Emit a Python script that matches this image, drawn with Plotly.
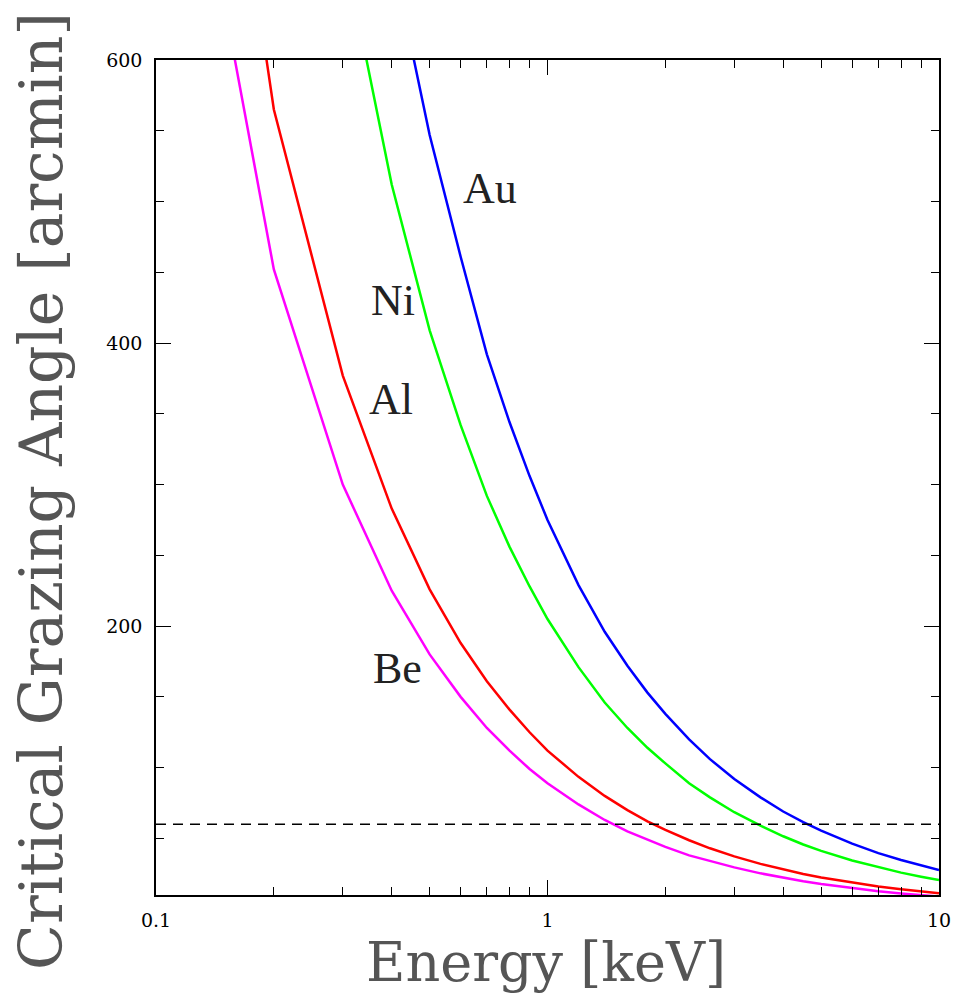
import plotly.graph_objects as go

energy = [0.1, 0.2, 0.3, 0.4, 0.5, 0.6, 0.7, 0.8, 0.9, 1.0, 1.2, 1.4, 1.6, 1.8, 2.0,
          2.3, 2.6, 3.0, 3.5, 4.0, 4.5, 5.0, 6.0, 7.0, 8.0, 9.0, 10.0]
be = [900, 452, 300, 225, 180, 150, 128, 112, 99, 89, 74, 63, 55, 49, 44,
      38, 34, 29.5, 25.3, 22.1, 19.7, 17.7, 14.8, 12.7, 11.1, 9.9, 8.9]
al = [1130, 565, 377, 283, 226, 188, 161, 141, 125, 112, 93.5, 80, 70, 62, 56,
      48.7, 43, 37.3, 32, 28, 24.9, 22.4, 18.7, 16, 14, 12.5, 11.2]
ni = [2050, 1025, 683, 512, 409, 342, 292, 256, 228, 205, 171, 146, 128, 114, 103,
      89, 79, 68.5, 59, 51.5, 45.7, 41.2, 34.4, 29.5, 25.8, 22.9, 20.6]
au = [2750, 1380, 920, 675, 547, 461, 392, 344, 306, 275, 229, 196, 172, 153, 138,
      120, 106, 92, 79, 69, 61.5, 55.5, 46.3, 39.6, 34.7, 30.8, 27.7]

series_names = ["Be", "Al", "Ni", "Au"]
series_colors = ["#FF00FF", "#FF0000", "#00FF00", "#0000FF"]
reference_angle = 60

x_tickvals = [0.1, 1, 10]
x_ticktext = ["0.1", "1", "10"]
x_minor = [0.2, 0.3, 0.4, 0.5, 0.6, 0.7, 0.8, 0.9, 2, 3, 4, 5, 6, 7, 8, 9]
y_tickvals = [200, 400, 600]

fig = go.Figure()
for name, vals, col in zip(series_names, [be, al, ni, au], series_colors):
    fig.add_trace(go.Scatter(x=energy, y=vals, mode="lines", name=name,
                             line=dict(color=col, width=2.5), showlegend=False))

fig.add_shape(type="line", xref="paper", x0=0, x1=1, yref="y",
              y0=reference_angle, y1=reference_angle,
              line=dict(color="black", width=1.3, dash="10px,7px"))

# curve labels (positions in log10 x / data y)
labels = [("Au", -0.147, 509), ("Ni", -0.395, 430), ("Al", -0.40, 360), ("Be", -0.384, 170)]
for t, lx, ly in labels:
    fig.add_annotation(x=lx, y=ly, xref="x", yref="y", text=t, showarrow=False,
                       font=dict(family="Liberation Serif", size=44, color="#222"),
                       xanchor="center", yanchor="middle")

fig.add_annotation(x=0.498, y=-0.121, xref="paper", yref="paper", text="Energy [keV]",
                   showarrow=False, font=dict(family="DejaVu Serif", size=54, color="#555"),
                   xanchor="center", yanchor="bottom")
fig.add_annotation(x=-0.147, y=0.4838, xref="paper", yref="paper",
                   text="Critical Grazing Angle [arcmin]", textangle=-90,
                   showarrow=False, font=dict(family="DejaVu Serif", size=60, color="#555"),
                   xanchor="center", yanchor="middle")

axis_common = dict(showgrid=False, zeroline=False, showline=True, linecolor="black",
                   linewidth=1.5, mirror="allticks", ticks="inside", ticklen=15,
                   tickwidth=1, tickcolor="black", automargin=False,
                   tickfont=dict(family="DejaVu Serif", size=19, color="black"))

fig.update_xaxes(type="log", range=[-1, 1], tickvals=x_tickvals, ticktext=x_ticktext,
                 minor=dict(tickvals=x_minor, ticks="inside", ticklen=8, tickcolor="black",
                            tickwidth=1),
                 ticklabelstandoff=7, **axis_common)
fig.update_yaxes(range=[10, 600], tickvals=y_tickvals,
                 minor=dict(dtick=50, tick0=0, ticks="inside", ticklen=8, tickcolor="black",
                            tickwidth=1),
                 ticklabelstandoff=8, **axis_common)

fig.update_layout(width=955, height=997, margin=dict(l=156, r=16, t=60, b=102),
                  plot_bgcolor="white", paper_bgcolor="white", showlegend=False)

fig.write_html("out.html", config={"displayModeBar": False},
               post_script="document.body.style.margin='0';document.body.style.overflow='hidden';")
